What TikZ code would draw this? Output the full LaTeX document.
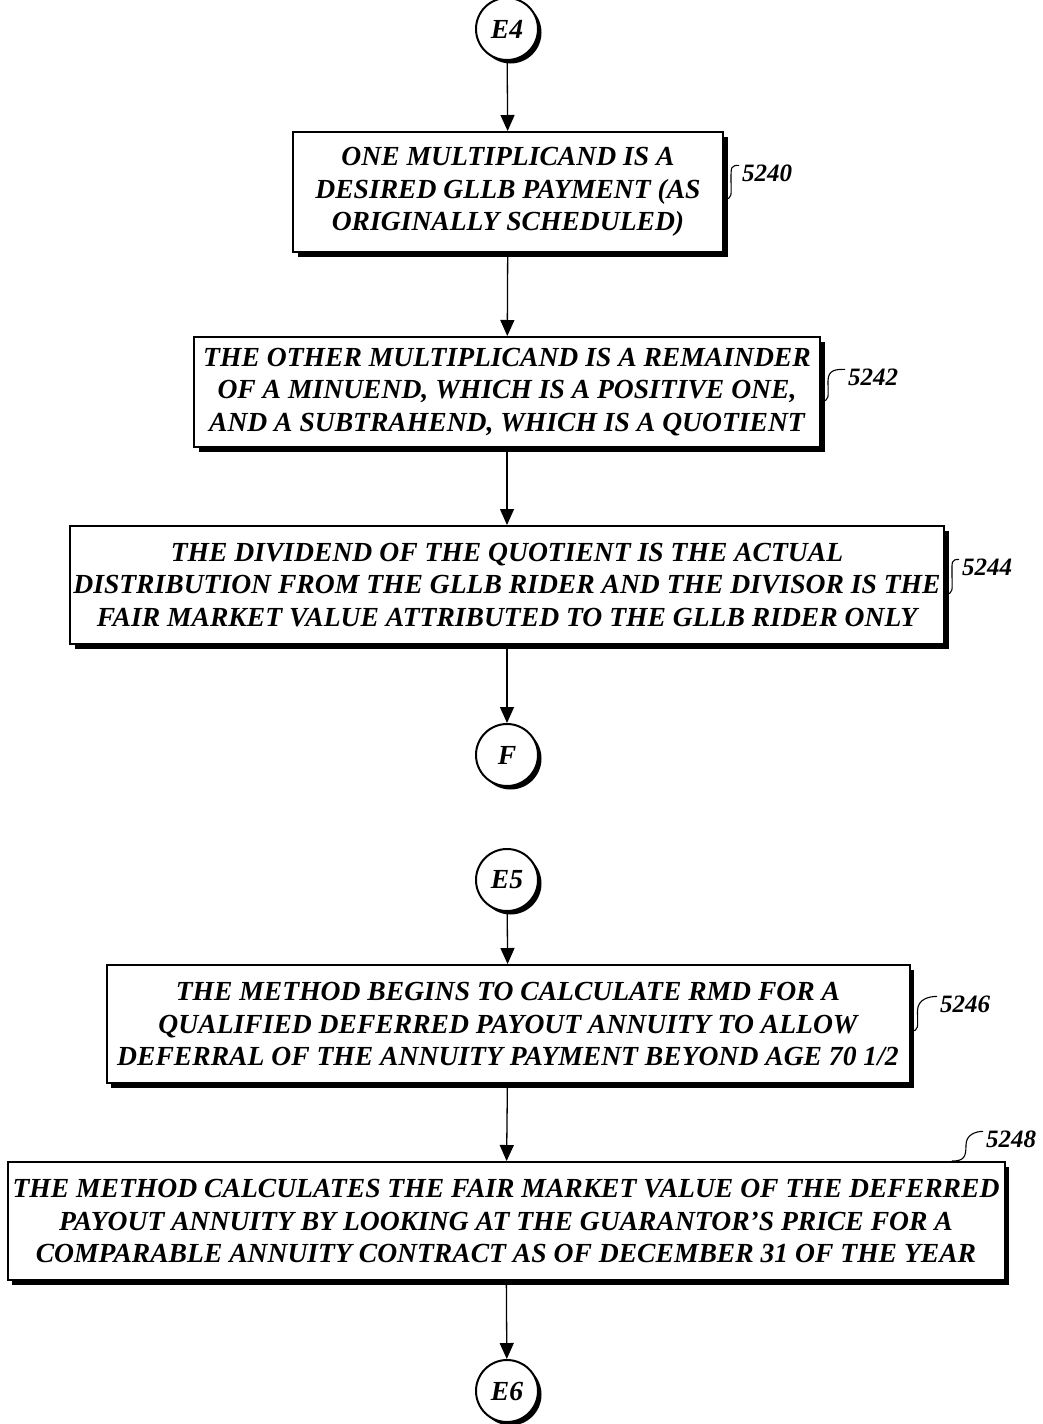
\documentclass[tikz,border=0pt]{standalone}
\usepackage{fontspec}
\setmainfont{Liberation Serif}
\usetikzlibrary{arrows.meta,shadows}

\begin{document}
\begin{tikzpicture}[x=1pt,y=-1pt,>={Triangle[length=16pt,width=14pt]},
	every node/.style={align=center,font=\fontsize{27.6}{32.5}\selectfont\bfseries\itshape},
	stepbox/.style={draw,line width=2pt,fill=white,inner sep=0pt,
		drop shadow={shadow xshift=4.5pt,shadow yshift=-4.5pt,opacity=1,fill=black}},
	onpage/.style={circle,draw,line width=2pt,fill=white,minimum size=62pt,inner sep=0pt,
		drop shadow={shadow xshift=3.5pt,shadow yshift=-3.5pt,opacity=1,fill=black}},
	tag/.style={anchor=west,inner sep=0pt,font=\fontsize{25}{28}\selectfont\bfseries\itshape},
	lead/.style={line width=1.1pt}]
\useasboundingbox (0,0) rectangle (1042,1424);
% first page
\node[onpage] (e4) at (507,29) {E4};
\node[stepbox,minimum width=430pt,minimum height=120pt] (b1) at (508,192)
	{ONE MULTIPLICAND IS A\\DESIRED GLLB PAYMENT (AS\\ORIGINALLY SCHEDULED)};
\node[stepbox,minimum width=626pt,minimum height=110pt] (b2) at (507,392)
	{THE OTHER MULTIPLICAND IS A REMAINDER\\OF A MINUEND, WHICH IS A POSITIVE ONE,\\AND A SUBTRAHEND, WHICH IS A QUOTIENT};
\node[stepbox,minimum width=874pt,minimum height=118pt] (b3) at (507,585)
	{THE DIVIDEND OF THE QUOTIENT IS THE ACTUAL\\DISTRIBUTION FROM THE GLLB RIDER AND THE DIVISOR IS THE\\FAIR MARKET VALUE ATTRIBUTED TO THE GLLB RIDER ONLY};
\node[onpage] (f) at (507,755) {F};
% second page
\node[onpage] (e5) at (507,880) {E5};
\node[stepbox,minimum width=803pt,minimum height=118pt] (b4) at (508,1024)
	{THE METHOD BEGINS TO CALCULATE RMD FOR A\\QUALIFIED DEFERRED PAYOUT ANNUITY TO ALLOW\\DEFERRAL OF THE ANNUITY PAYMENT BEYOND AGE 70 1/2};
\node[stepbox,minimum width=997pt,minimum height=118pt] (b5) at (506,1221)
	{THE METHOD CALCULATES THE FAIR MARKET VALUE OF THE DEFERRED\\PAYOUT ANNUITY BY LOOKING AT THE GUARANTOR'S PRICE FOR A\\COMPARABLE ANNUITY CONTRACT AS OF DECEMBER 31 OF THE YEAR};
\node[onpage] (e6) at (507,1391) {E6};
% reference numerals
\node[tag] (t1) at (742,173) {5240};
\node[tag] (t2) at (848,377) {5242};
\node[tag] (t3) at (962,567) {5244};
\node[tag] (t4) at (940,1004) {5246};
\node[tag] (t5) at (986,1139) {5248};
\draw[lead] (b1.east |- 0,199) .. controls +(9,0) and +(0,16) .. +(7,-20) .. controls +(0,-12) and +(-8,0) .. ([shift={(-3,1)}]t1.north west);
\draw[lead] (b2.east |- 0,401) .. controls +(9,0) and +(0,16) .. +(7,-20) .. controls +(0,-12) and +(-8,0) .. ([shift={(-3,1)}]t2.north west);
\draw[lead] (b3.east |- 0,594) .. controls +(9,0) and +(0,16) .. +(7,-20) .. controls +(0,-12) and +(-8,0) .. ([shift={(-3,1)}]t3.north west);
\draw[lead] (b4.east |- 0,1031) .. controls +(9,0) and +(0,16) .. +(7,-20) .. controls +(0,-12) and +(-8,0) .. ([shift={(-3,1)}]t4.north west);
\draw[lead] (b5.north -| 952,0) .. controls +(12,0) and +(0,12) .. +(14,-16) .. controls +(0,-10) and +(-8,0) .. ([shift={(-3,1)}]t5.north west);
% flow
\foreach \a/\b in {e4/b1,b1/b2,b2/b3,b3/f,e5/b4,b4/b5,b5/e6}
	\draw[->,line width=1.3pt] (\a) -- (\b);
\end{tikzpicture}
\end{document}
